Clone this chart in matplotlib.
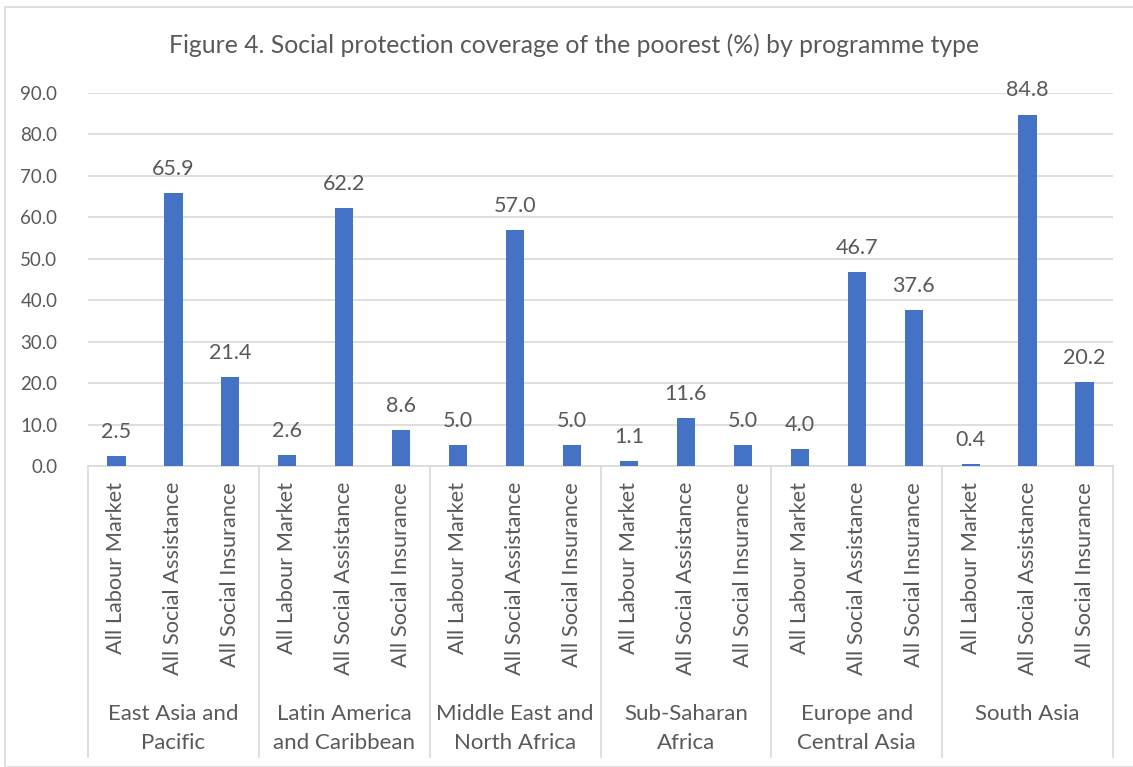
import matplotlib.pyplot as plt
from matplotlib.patches import Rectangle
from matplotlib.lines import Line2D

plt.rcParams['font.family'] = ['Lato', 'DejaVu Sans']

regions = ["East Asia and\nPacific", "Latin America\nand Caribbean", "Middle East and\nNorth Africa",
           "Sub-Saharan\nAfrica", "Europe and\nCentral Asia", "South Asia"]
programmes = ["All Labour Market", "All Social Assistance", "All Social Insurance"]
labour = [2.5, 2.6, 5.0, 1.1, 4.0, 0.4]
assistance = [65.9, 62.2, 57.0, 11.6, 46.7, 84.8]
insurance = [21.4, 8.6, 5.0, 5.0, 37.6, 20.2]

txt = '#595959'
grid = '#D9D9D9'
blue = '#4472C4'

W, H = 1133, 767
fig = plt.figure(figsize=(W / 100, H / 100), dpi=100)
ax = fig.add_axes([88 / W, 1 - 466 / H, (1113 - 88) / W, (466 - 93) / H])

# chart border
fig.patches.append(Rectangle((5 / W, 0), 1.2, 1 - 7 / H, transform=fig.transFigure,
                             fill=False, edgecolor=grid, lw=1.2))

xs, vals, labs = [], [], []
for i in range(len(regions)):
    for j, series in enumerate([labour, assistance, insurance]):
        xs.append(i * 3 + j)
        vals.append(series[i])
        labs.append(programmes[j])

ax.bar(xs, vals, width=0.32, color=blue, zorder=3)
for x, v in zip(xs, vals):
    ax.annotate(f"{v:.1f}", (x, v), xytext=(0, 13), textcoords='offset points',
                ha='center', va='baseline', fontsize=15.5, color=txt)

ax.set_xlim(-0.5, len(xs) - 0.5)
ax.set_ylim(0, 90)
ax.set_yticks(range(0, 91, 10))
ax.set_yticklabels([f"{t:.1f}" for t in range(0, 91, 10)])
ax.tick_params(axis='y', length=0, pad=22, labelsize=13.5, labelcolor=txt)
ax.set_xticks([])
ax.grid(axis='y', color=grid, lw=1.2, zorder=0)
for s in ['top', 'right', 'left']:
    ax.spines[s].set_visible(False)
ax.spines['bottom'].set_color(grid)
ax.spines['bottom'].set_linewidth(1.2)

trans = ax.get_xaxis_transform()
ppx = 1 / (466 - 93)  # axes fraction per pixel
for x, lab in zip(xs, labs):
    ax.text(x, -16 * ppx, lab, rotation=90, ha='center', va='top', fontsize=15.7,
            color=txt, transform=trans)
for i, r in enumerate(regions):
    ax.text(i * 3 + 1, -238 * ppx, r, ha='center', va='top', fontsize=16,
            color=txt, transform=trans, linespacing=1.55)
for k in range(len(regions) + 1):
    ax.add_line(Line2D([k * 3 - 0.5] * 2, [0, -291 * ppx], color=grid, lw=1.2,
                       transform=trans, clip_on=False))

fig.text(0.5 * (170 + 978) / W, 1 - 45 / H,
         "Figure 4. Social protection coverage of the poorest (%) by programme type",
         ha='center', va='center', fontsize=17.8, color=txt)

fig.savefig('out.png', dpi=100)
